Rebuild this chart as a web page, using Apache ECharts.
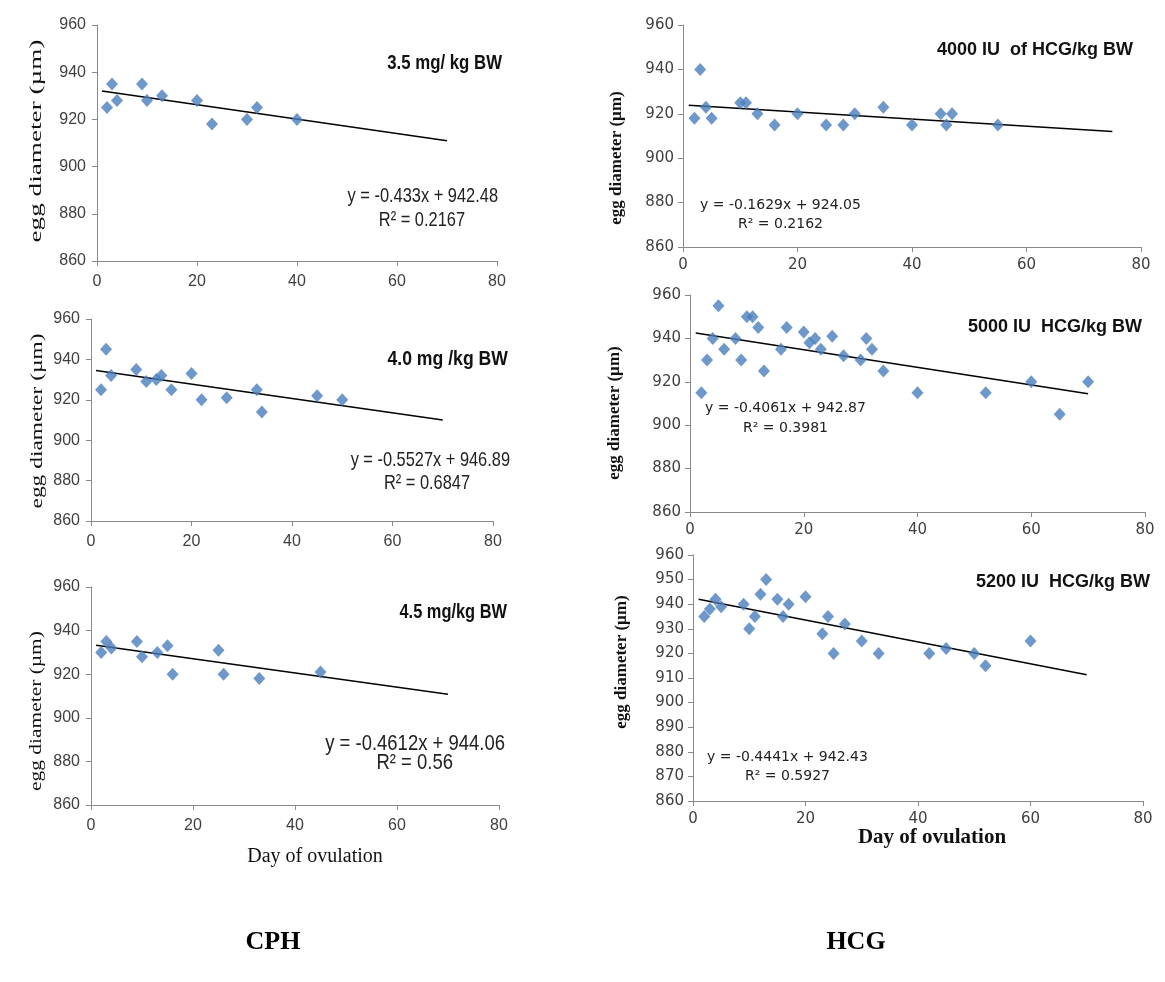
<!DOCTYPE html>
<html><head><meta charset="utf-8">
<script src="https://cdn.jsdelivr.net/npm/echarts@6/dist/echarts.min.js"></script>
<style>html,body{margin:0;padding:0;background:#fff}#c{width:1165px;height:982px}</style>
</head><body><div id="c"></div>
<script>
// ---- data ----
const xTicks = [0, 20, 40, 60, 80];
const cph35 = [[2,925],[3,935],[4,928],[9,935],[10,928],[13,930],[20,928],[23,918],[30,920],[32,925],[40,920]];
const cph35Trend = [[1,932],[70,911]];
const cph40 = [[2,925],[3,945],[4,932],[9,935],[11,929],[13,930],[14,932],[16,925],[20,933],[22,920],[27,921],[33,925],[34,914],[45,922],[50,920]];
const cph40Trend = [[1,934.5],[70,910]];
const cph45 = [[2,930],[3,935],[4,932],[9,935],[10,928],[13,930],[15,933],[16,920],[25,931],[26,920],[33,918],[45,921]];
const cph45Trend = [[1,933.3],[70,910.8]];
const hcg4000 = [[2,918],[3,940],[4,923],[5,918],[10,925],[11,925],[13,920],[16,915],[20,920],[25,915],[28,915],[30,920],[35,923],[40,915],[45,920],[46,915],[47,920],[55,915]];
const hcg4000Trend = [[1,923.9],[75,912]];
const hcg5000 = [[2,915],[3,930],[4,940],[5,955],[6,935],[8,940],[9,930],[10,950],[11,950],[12,945],[13,925],[16,935],[17,945],[20,943],[21,938],[22,940],[23,935],[25,941],[27,932],[30,930],[31,940],[32,935],[34,925],[40,915],[52,915],[60,920],[65,905],[70,920]];
const hcg5000Trend = [[1,942.5],[70,914.5]];
const hcg5200 = [[2,935],[3,938],[4,942],[5,939],[9,940],[10,930],[11,935],[12,944],[13,950],[15,942],[16,935],[17,940],[20,943],[23,928],[24,935],[25,920],[27,932],[30,925],[33,920],[42,920],[45,922],[50,920],[52,915],[60,925]];
const hcg5200Trend = [[1,942],[70,911.3]];
const titles = ['3.5 mg/ kg BW','4.0 mg /kg BW','4.5 mg/kg BW','4000 IU  of HCG/kg BW','5000 IU  HCG/kg BW','5200 IU  HCG/kg BW'];
const eqs = ['y = -0.433x + 942.48','y = -0.5527x + 946.89','y = -0.4612x + 944.06','y = -0.1629x + 924.05','y = -0.4061x + 942.87','y = -0.4441x + 942.43'];
const r2s = ['R² = 0.2167','R² = 0.6847','R² = 0.56','R² = 0.2162','R² = 0.3981','R² = 0.5927'];
const yName = 'egg diameter (µm)';
const xName = 'Day of ovulation';
const groupNames = ['CPH','HCG'];

// ---- layout / style ----
const panels = [
  {pts:cph35, tr:cph35Trend, g:{l:97,r:497,t:25,b:261}, ii:20, grp:0, title:{x:502,y:63,size:20,sx:0.84}, eq:{x:498,y:196,rx:465,ry:220,size:20,sx:0.82}, yn:{x:37,y:141,s:1.6}},
  {pts:cph40, tr:cph40Trend, g:{l:91,r:493,t:319,b:521}, ii:20, grp:0, title:{x:508,y:359,size:21,sx:0.84}, eq:{x:510,y:460,rx:470,ry:483,size:21,sx:0.78}, yn:{x:38,y:421,s:1.38}},
  {pts:cph45, tr:cph45Trend, g:{l:91,r:499,t:587,b:805}, ii:20, grp:0, title:{x:507,y:612,size:20,sx:0.82}, eq:{x:505,y:744,rx:453,ry:763,size:22,sx:0.84}, yn:{x:37,y:711,s:1.26}},
  {pts:hcg4000, tr:hcg4000Trend, g:{l:683,r:1141,t:25,b:247}, ii:20, grp:1, title:{x:1133,y:50,size:18,sx:1}, eq:{x:700,y:205,rx:738,ry:224,size:14,sx:1}, yn:{x:617,y:158,s:1}},
  {pts:hcg5000, tr:hcg5000Trend, g:{l:690,r:1145,t:295,b:512}, ii:20, grp:1, title:{x:1142,y:327,size:18,sx:1}, eq:{x:705,y:408,rx:743,ry:428,size:14,sx:1}, yn:{x:615,y:413,s:1}},
  {pts:hcg5200, tr:hcg5200Trend, g:{l:693,r:1143,t:555,b:801}, ii:10, grp:1, title:{x:1150,y:582,size:18,sx:1}, eq:{x:707,y:757,rx:745,ry:776,size:14,sx:1}, yn:{x:622,y:662,s:1}}
];
const SANS = '"Liberation Sans",Arial,sans-serif';
const WIDE = '"DejaVu Sans",Verdana,sans-serif';
const SERIF = '"Liberation Serif","Times New Roman",serif';
const BLUE = '#4a7ebb';

const grid=[], xAxis=[], yAxis=[], series=[], graphic=[];
panels.forEach((p,i)=>{
  const cph = p.grp===0;
  grid.push({left:p.g.l, top:p.g.t, width:p.g.r-p.g.l, height:p.g.b-p.g.t});
  const lab = {color:'#404040', fontFamily: cph?SANS:WIDE, fontSize: cph?16:15};
  const axLine = {show:true, lineStyle:{color:'#8a8a8a', width:1}};
  xAxis.push({gridIndex:i, type:'value', min:xTicks[0], max:xTicks[xTicks.length-1], interval:20,
    axisLine:axLine, axisTick:{show:true, length:5, lineStyle:{color:'#8a8a8a'}},
    axisLabel:Object.assign({margin:cph?13:11}, lab), splitLine:{show:false}});
  yAxis.push({gridIndex:i, type:'value', min:860, max:960, interval:p.ii,
    axisLine:axLine, axisTick:{show:true, length:5, lineStyle:{color:'#8a8a8a'}},
    axisLabel:Object.assign({margin:cph?11:9}, lab), splitLine:{show:false}});
  series.push({type:'scatter', xAxisIndex:i, yAxisIndex:i, data:p.pts, symbol:'diamond', symbolSize:[12,13],
    itemStyle:{color:BLUE}, z:3});
  series.push({type:'line', xAxisIndex:i, yAxisIndex:i, data:p.tr, symbol:'none',
    lineStyle:{color:'#000', width:1.5}, z:2});
  // title
  graphic.push({type:'text', x:p.title.x, y:p.title.y, scaleX:p.title.sx, style:{text:titles[i],
    font:'bold '+p.title.size+'px '+SANS,
    fill:'#111', textAlign:'right', align:'right', textVerticalAlign:'middle', verticalAlign:'middle'}});
  // equation
  const eqAlign = cph?'right':'left';
  const eqFont = p.eq.size+'px '+(cph?SANS:WIDE);
  graphic.push({type:'text', x:p.eq.x, y:p.eq.y, scaleX:p.eq.sx, style:{text:eqs[i], font:eqFont,
    fill:'#222', textAlign:eqAlign, align:eqAlign, textVerticalAlign:'middle', verticalAlign:'middle'}});
  graphic.push({type:'text', x:p.eq.rx, y:p.eq.ry, scaleX:p.eq.sx, style:{text:r2s[i], font:eqFont,
    fill:'#222', textAlign:eqAlign, align:eqAlign, textVerticalAlign:'middle', verticalAlign:'middle'}});
  // y axis name
  graphic.push({type:'text', x:p.yn.x, y:p.yn.y, rotation:Math.PI/2, scaleX:p.yn.s,
    style:{text:yName, font:(cph?'17px ':'bold 17px ')+SERIF, fill:'#111',
    textAlign:'center', align:'center', textVerticalAlign:'middle', verticalAlign:'middle'}});
});
// x axis names and group labels
graphic.push({type:'text', x:315, y:857, style:{text:xName, font:'20px '+SERIF, fill:'#111',
  textAlign:'center', align:'center', textVerticalAlign:'middle', verticalAlign:'middle'}});
graphic.push({type:'text', x:932, y:838, style:{text:xName, font:'bold 21px '+SERIF, fill:'#111',
  textAlign:'center', align:'center', textVerticalAlign:'middle', verticalAlign:'middle'}});
graphic.push({type:'text', x:273, y:942, style:{text:groupNames[0], font:'bold 26px '+SERIF, fill:'#000',
  textAlign:'center', align:'center', textVerticalAlign:'middle', verticalAlign:'middle'}});
graphic.push({type:'text', x:856, y:942, style:{text:groupNames[1], font:'bold 26px '+SERIF, fill:'#000',
  textAlign:'center', align:'center', textVerticalAlign:'middle', verticalAlign:'middle'}});

const chart = echarts.init(document.getElementById('c'), null, {renderer:'canvas'});
chart.setOption({backgroundColor:'#fff', animation:false, grid, xAxis, yAxis, series, graphic});
</script></body></html>
